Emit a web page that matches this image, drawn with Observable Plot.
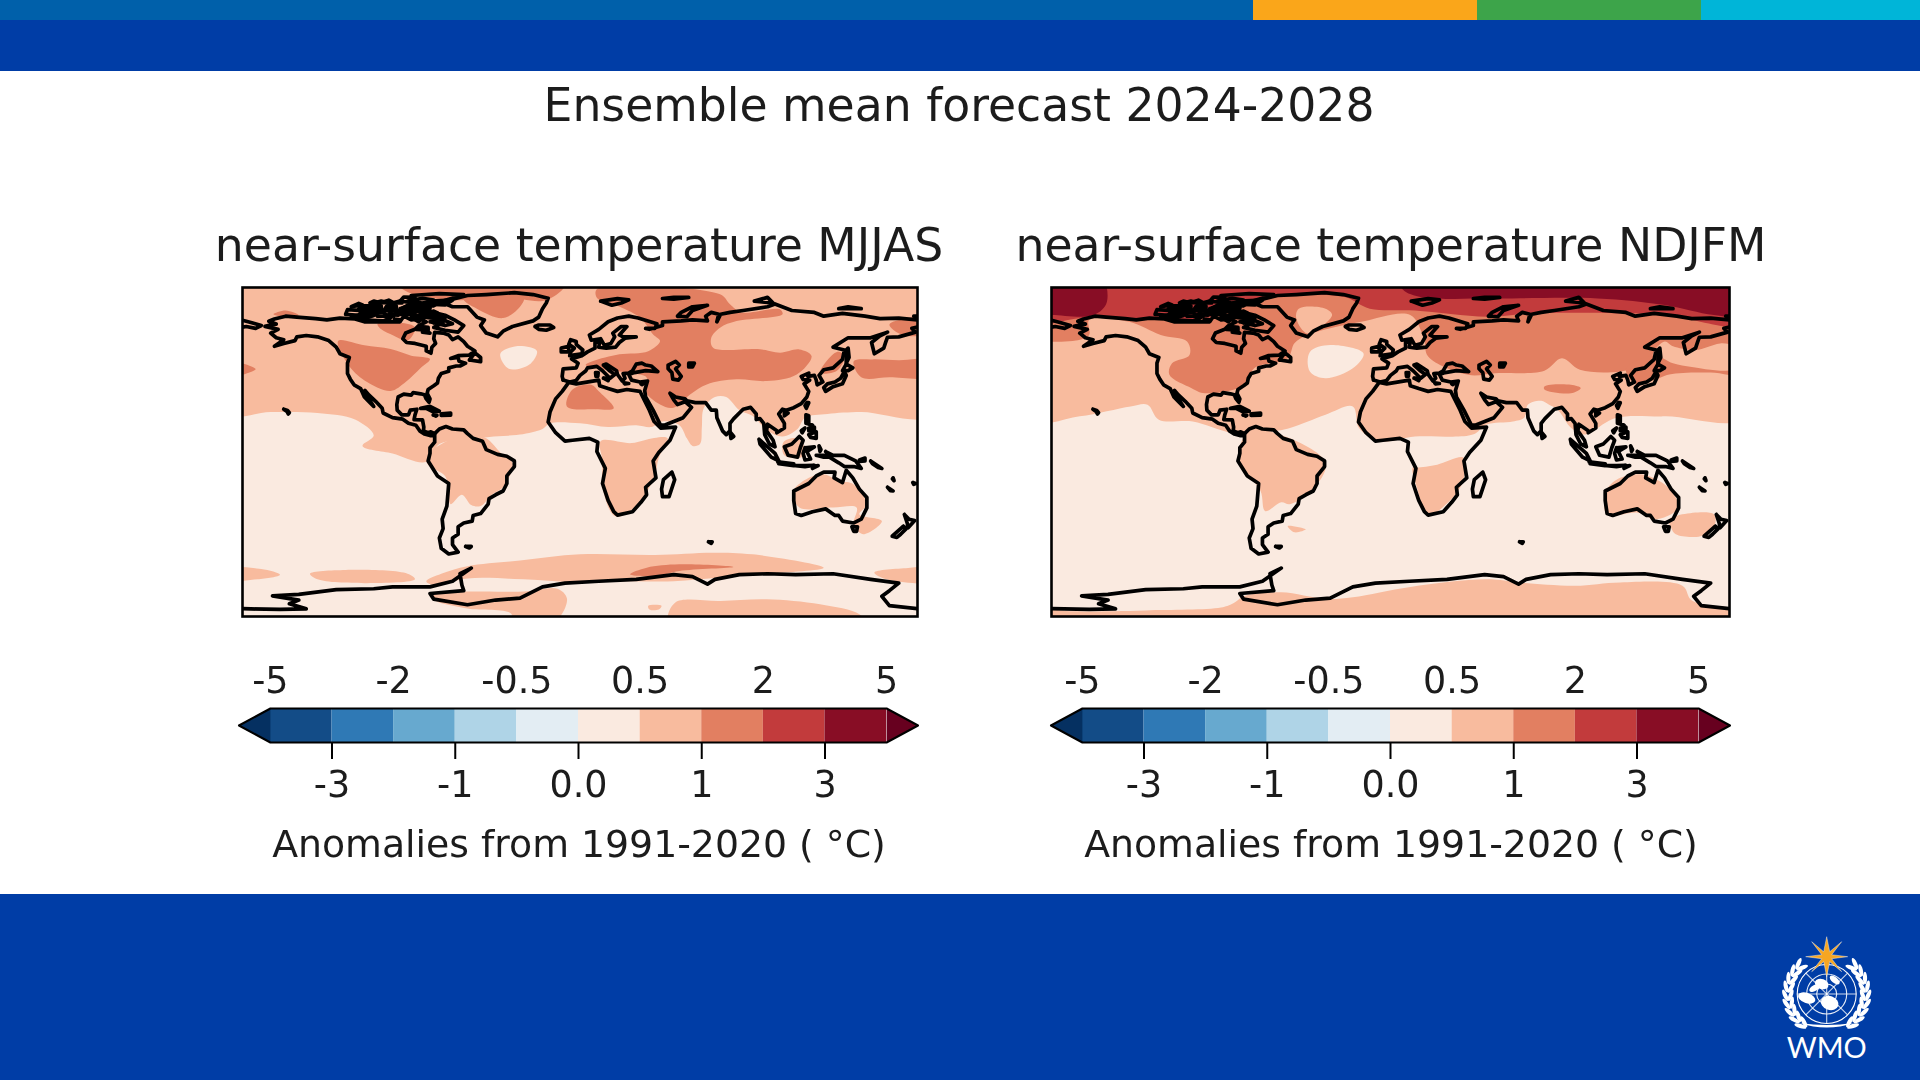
<!DOCTYPE html>
<html><head><meta charset="utf-8">
<script src="https://cdn.jsdelivr.net/npm/d3@7"></script>
<script src="https://cdn.jsdelivr.net/npm/@observablehq/plot@0.6"></script>
<style>
html,body{margin:0;padding:0;background:#fff;width:1920px;height:1080px;overflow:hidden}
body{position:relative;font-family:"DejaVu Sans",sans-serif;color:#1c1c1c}
.abs{position:absolute}
.t{position:absolute;text-align:center;white-space:nowrap;transform:translateX(-50%);line-height:1;filter:blur(.6px)}
.soft{position:absolute;filter:blur(.7px)}
svg{display:block;overflow:visible;background:transparent}
</style></head><body>
<div class="abs" style="left:0;top:0;width:1253px;height:20px;background:#0060aa"></div>
<div class="abs" style="left:1253px;top:0;width:224px;height:20px;background:#faa61a"></div>
<div class="abs" style="left:1477px;top:0;width:224px;height:20px;background:#3da44a"></div>
<div class="abs" style="left:1701px;top:0;width:219px;height:20px;background:#00b5d8"></div>
<div class="abs" style="left:0;top:20px;width:1920px;height:51px;background:#003da6"></div>
<div class="abs" style="left:0;top:894px;width:1920px;height:186px;background:#003da6"></div>
<div id="page"></div>
<svg id="logo" class="abs" style="left:1770px;top:925px" width="120" height="145" viewBox="1770 925 120 145"></svg>
<script>
// ---- text
const mainTitle = "Ensemble mean forecast 2024-2028";
const panelTitles = ["near-surface temperature MJJAS", "near-surface temperature NDJFM"];
const barLabel = "Anomalies from 1991-2020 ( °C)";
const topTicks = ["-5","-2","-0.5","0.5","2","5"];
const bottomTicks = ["-3","-1","0.0","1","3"];

// ---- colour classes
const boundaries = [-5,-3,-2,-1,-0.5,0,0.5,1,2,3,5];
const classColors = ["#053061","#134c87","#2f79b5","#67a9cf","#afd4e7","#e3edf3","#faeae0","#f8bb9e","#e27f61","#c23b3c","#880d25","#67001f"];

// ---- anomaly regions, [lon,lat], MJJAS
const world = [[-190,-95],[190,-95],[190,95],[-190,95]];
const mjjasLight = [
 [[-190,19.5],[-165,20],[-140,19.5],[-120,16],[-110,7.5],[-116,2],[-100,-2],[-82,-6.5],[-75,3],[-60,5],[-46,7],[-32,8],[-20,11],[-16,14],[0,14],[15,12],[30,13],[38,12],[44,15],[53,13],[57,6],[60,2],[64,3],[65,12],[66,22],[72,28],[78,28],[85,21],[92,18],[100,10],[108,7],[116,11],[120,17],[132,19],[150,20],[190,19],[190,95],[-190,95]],
 [[-50,6],[-42,-2],[-36,-7],[-37,-13],[-41,-20],[-47,-24],[-53,-30],[-58,-29.5],[-63,-24],[-69,-29],[-70,-22],[-72,-14],[-81,-8],[-82,-4],[-70,5],[-55,7]],
 [[11,4.5],[27.6,3.5],[39.5,6.2],[46.7,6],[42,-4.4],[39.5,-15],[32.4,-27],[23,-35],[18,-35],[12,-20],[12,-6]],
 [[108.5,4],[116,6],[120,0],[118,-4],[109,-3]],
 [[113.8,-22],[128,-13],[138.7,-16.7],[145.8,-18.4],[153,-29],[149,-34.4],[161,-38],[151,-45],[146,-39.7],[147.5,-30.8],[135,-30.8],[117,-30.8]],
 [[-82,-70],[-74,-66],[-60,-62],[-32,-59],[0,-55.7],[40,-56],[71,-54.8],[92,-55.7],[130,-62.8],[100,-66],[75,-68],[50,-70],[25,-70],[0,-70.7],[-30,-69],[-60,-68.5],[-78,-72]],
 [[-80,-77],[-58,-75.5],[-30,-75.5],[-12,-74],[-7,-79],[-10,-88],[-15,-92],[-35,-92],[-37,-87],[-60,-84.5],[-78,-80]],
 [[-190,-63.5],[-170,-63.5],[-160,-66.5],[-172,-69],[-190,-69]],
 [[-144,-66],[-125,-64],[-92,-66],[-88,-69],[-115,-71],[-140,-69]],
 [[157,-65.4],[175,-63],[190,-62.8],[190,-69.8],[163.6,-69]],
 [[47.5,-92],[50.7,-81.4],[75,-80.5],[99.6,-79.6],[128,-82.3],[149,-87.6],[152,-92]],
 [[36.4,-83],[43.5,-83],[42,-85],[37,-85]],
];
const mjjasPaleHoles = [ [[-42.5,51],[-34,55],[-23,52.5],[-27,45.3],[-38,43]] ];
const mjjasOrange = [
 [[-129,57.8],[-115,55.5],[-101,53.5],[-90,50],[-80,48.2],[-85,43.4],[-93,36],[-101,31.2],[-112,35],[-122,43]],
 [[-108,67],[-96,67.5],[-88,65],[-92,58],[-99,60.5],[-106,64]],
 [[-97,88],[-8,88],[-18,79.5],[-40,81],[-66,79.5],[-90,83]],
 [[-62,80],[-30,81],[-32,76],[-41,70],[-55,75]],
 [[-190,47],[-173,42.8],[-190,39]],
 [[-163.5,72],[-157,74],[-150,71.5],[-158,70.8]],
 [[9,85.3],[74.7,82.6],[80,77.3],[86,73],[106.7,74.6],[108,72],[83.5,68.4],[74.7,64.9],[70,59.5],[71,54.2],[96,53.4],[106.7,51.6],[117,53.3],[123.5,49.8],[115.6,40],[99.6,36.5],[83.5,37.4],[67.6,34.7],[58.7,29.4],[49.8,22.3],[42.7,24],[34.7,31.2],[35.6,38.3],[25,41],[10,43],[3,45],[7,47.1],[21,50.7],[36.4,52.4],[42.7,57.8],[39,61.3],[32,70.2],[18,77.3],[9,80.8]],
 [[-7,23],[-4,32],[6,34.5],[10,31],[18,22],[8,21.5]],
 [[128,41],[137,52],[141,50],[137,42]],
 [[146,47],[156,48],[170,47.5],[190,47.5],[190,39],[165,38.5],[150,38.5]],
 [[165,66.5],[175,70],[190,72],[190,63],[172,61]],
 [[26.7,-66.3],[35.6,-62.8],[53,-61],[81.8,-62.4],[53,-64.5],[41,-67.2]],
];

// ---- anomaly regions, [lon,lat], NDJFM
const ndjfmLight = [
 [[-190,16],[-165,17.7],[-138,23],[-129,23.9],[-123,15.9],[-105,15],[-84,9],[-63,9.6],[-53.4,11.5],[-34.5,18.6],[-20,23],[-16.7,11.5],[-6,4.5],[13,7],[43.7,8],[50.8,13.3],[65,15],[71,17],[73,24],[80,26],[84,24],[89,21],[96,11.5],[103,8],[119.5,16.8],[145.6,17.7],[190,17.7],[190,95],[-190,95]],
 [[-80.7,-4.4],[-74.8,9.8],[-53.4,6],[-34.5,-7],[-39,-18.5],[-53.4,-29],[-58,-28],[-66.5,-32.7],[-69,-22]],
 [[14,-9.6],[24.8,-8],[39,-4.4],[37.8,-18.5],[29.5,-29],[20,-35],[14,-20],[11.7,-9.6]],
 [[114.8,-21.5],[122,-15],[133.7,-13.2],[145.6,-18.5],[151.5,-25.6],[153,-31],[141,-37],[131.4,-33.5],[114.8,-34.4]],
 [[148,-37],[171.7,-34.4],[171.7,-41.5],[164.6,-46],[151.5,-45],[149,-41.5]],
 [[-54.6,-40.6],[-45,-42.4],[-51,-44]],
 [[-77,-77.7],[-58,-75.9],[-34.5,-79.4],[-20,-78.5],[10.5,-73],[50.8,-69],[69.8,-70.8],[98,-72.4],[122,-70.6],[155,-72.4],[160,-80.3],[180,-83.9],[190,-84],[190,-95],[-190,-95],[-190,-85],[-170,-86],[-130,-85.5],[-90,-84],[-84,-82]],
];
const ndjfmPaleHoles = [ [[-42.8,52],[-32,55.7],[-14.3,51.2],[-20,43.3],[-34.5,38],[-42.8,41.6]] ];
const ndjfmOrange = [
 [[-190,95],[190,95],[190,56.5],[175,56.5],[162,53],[150,55],[145.6,57.5],[139.7,52],[138.5,47],[122,41.6],[100.6,42.5],[91,48.6],[81.7,42],[55.6,40.7],[41.3,39.8],[20,49.5],[17.7,59],[10.5,71.6],[-15.5,68],[-44,61],[-51,56.6],[-54.6,48.6],[-72.4,43.3],[-77,34.5],[-98.5,30],[-105.6,32.7],[-117.4,39.8],[-116,46],[-106.7,50.4],[-108,57.5],[-122,61],[-138.7,68],[-160,69],[-160,61],[-167,58],[-180,57.4],[-190,57]],
 [[125,43],[140,50],[150,46],[160,44],[175,42],[190,42],[190,39],[170,41],[148,40],[140,37],[130,35]],
 [[81.7,33.6],[95.8,34.5],[101,32.7],[95.8,30],[81.7,32]],
];
const ndjfmGreenlandLight = [ [[-48.7,75],[-34.5,75],[-31,71.6],[-44,61.8],[-50,69.8]] ];
const ndjfmRed = [ [[-190,68],[-163,70],[-98,70],[-85,75],[-68,80.4],[-25,81.3],[-11,75],[13,74],[51,70.7],[75,72.5],[122,72.5],[146,71.6],[190,67],[190,95],[-190,95]] ];
const ndjfmDark = [
 [[-190,95],[-155,95],[-150.6,78.6],[-157.7,71.6],[-180,71.6],[-190,71.6]],
 [[5,95],[5.8,86],[15.3,81.3],[50.8,80.4],[110,80.4],[145.6,76.9],[171.7,71.6],[190,71.6],[190,95]],
];

// ---- coastlines, [lon,lat]
const northAmerica = [[-168,65.6],[-164,66.5],[-162,66.8],[-166,68.3],[-163,69.5],[-157,71],[-151,70.5],[-141,69.7],[-135,69],[-128,70],[-120,69.5],[-115,68],[-108,68],[-102,68],[-96,68],[-94,71],[-90,69],[-85,69.5],[-82,68],[-86,66],[-88,64],[-93,62],[-94.5,59],[-92.5,57],[-88,56.5],[-82,55],[-82,52.5],[-79.5,51.3],[-79,54.5],[-77,56.5],[-78,59],[-77.5,62.4],[-73,62],[-70,61],[-68,58.5],[-65,60],[-62,57.5],[-60,55],[-56,52.5],[-59,50.3],[-65,50],[-69,48.5],[-65,49],[-64.5,47],[-61,46],[-64,44.5],[-66,44.5],[-70,43.5],[-70,41.7],[-74,40.5],[-75.5,38],[-76,35.5],[-78,34],[-81,32],[-81.5,30],[-80,27],[-80.5,25.2],[-82,27],[-83,29.2],[-85,29.7],[-89,30.3],[-90,29],[-94,29.5],[-97,28],[-97.7,24],[-97.5,21],[-95,18.5],[-91.5,18.5],[-90.5,21],[-87,21.5],[-88,18.5],[-88.5,16],[-84,15.8],[-83.3,12],[-83.5,10],[-81,9],[-79.5,9.5],[-77.5,8.5],[-78,7.5],[-80,7.5],[-83,8.3],[-85.5,10],[-87.5,13],[-91.5,14],[-94.5,16.2],[-100,17],[-105,19.5],[-105.5,22],[-109,25.7],[-112.5,29],[-114.7,31.5],[-112,26],[-110,23],[-112,25],[-115,28],[-117,32.5],[-120.5,34.5],[-122.5,37.5],[-124,40.5],[-124,46],[-123,49],[-128,51],[-130,54.5],[-134,58],[-140,60],[-146,60.7],[-151,60],[-152,58],[-158,56.5],[-163,55],[-158,58.5],[-162,59.5],[-165,62],[-161,64],[-168,65.6]];
const southAmerica = [[-77.5,8.5],[-75,11],[-71.5,12.3],[-68,11],[-62,10.5],[-60,8.5],[-57,6],[-52,4.5],[-50,0],[-44,-2.5],[-39,-3.5],[-35,-6],[-35,-9],[-39,-14],[-39,-18],[-41,-22],[-45,-24],[-48.5,-26],[-49,-29],[-53,-34],[-57,-35],[-57.5,-38],[-62,-39],[-65,-41],[-65,-45],[-68,-47],[-68,-50.5],[-65,-54.5],[-70,-55.5],[-74,-52.5],[-75,-47],[-73,-42],[-73.5,-37],[-71,-30],[-70,-18],[-76,-14],[-81,-6],[-80,-2],[-80,1],[-77.5,4],[-77.5,8.5]];
const africa = [[32.5,30],[34,27],[37,21],[39.5,15],[43,11.5],[51,12],[48,5],[42,-1.5],[39,-6],[40.5,-15],[35,-20],[35.5,-24],[32.5,-28],[28,-33],[20,-34.8],[18,-33],[15,-27],[12,-18],[13.5,-10],[9,-1],[9.5,4],[5,6],[-4,5],[-8,4.5],[-13,9],[-17,14.7],[-16,20],[-13,27],[-9.5,31],[-6,35.8],[-2,35],[10,37],[10.5,34],[15,32.5],[20,31],[25,32],[32,31],[32.5,30]];
const eurasia = [[-9,37],[-9.5,39],[-9,43],[-2,43.5],[-1,46],[-4.5,48.3],[1,50],[4,52],[8,54],[8,57],[10.5,57.5],[10,54.5],[14,54],[19,54.5],[21,57],[24,59.3],[30,60],[23,60],[21,61],[25,65.5],[22,65.5],[17.5,62],[18.5,60],[16.5,56.5],[13,55.5],[11,59],[6,58.2],[5,61],[10,64],[15,68],[20,70],[26,71],[31,70],[41,67],[40,64.5],[35,64.5],[37,64],[44,66],[44,68],[54,68.5],[60,69],[68,68.5],[67,71],[70,73],[74,72],[73,68],[75,72],[80,73],[87,74],[100,76],[104,77.5],[113,74],[125,73],[130,71],[140,72.5],[152,71],[160,69.7],[170,70],[180,69]];
const eurasiaEast = [[180,65.2],[177,64.5],[179,62.5],[170,60],[164,59.8],[163,57],[162,54],[157,51],[155.5,57],[160,60.5],[164,62.5],[155,59.5],[143,59.5],[135,54.5],[141,53],[140,48],[135,43.5],[130,42.5],[127.5,39.5],[129.5,36],[126.5,34.5],[126,37],[125,39.5],[121.5,39],[122,40.7],[118,39],[119,37.3],[122.5,37],[119.5,35],[122,31],[121,28],[118,24.5],[114,22.3],[110,21],[108,21.5],[106,19],[109,14],[109,11.5],[105,9],[105,10],[100,13.5],[99.5,10],[103,5],[104,1.5],[101,3],[98.5,8],[98,14],[96,16.5],[94,16],[94,19],[91,22.5],[87,21.5],[82,16.5],[80,14],[80,10],[78,8],[76,10],[73,17],[72.7,21],[70,21],[67,25],[61.5,25],[57,26],[56,27],[51,28],[48,30],[50,26.5],[52,24],[56,25.5],[59.5,22.5],[55,17],[45,13],[43,13],[39,21],[35,28],[34.5,31.5],[36,36.5],[32,36],[27.5,37],[26,40],[29,41],[35,42],[41.5,41.5],[38,44.5],[35,45],[33,46],[30,45.5],[28,42],[26,40.7],[23,40.5],[24,38],[22.5,36.5],[20,40],[19.5,42],[14,45.5],[12.5,45],[16,41.8],[18.5,40],[16,38],[12,42],[9,44.3],[4,43.5],[3,41.8],[0,39.5],[-2,36.8],[-5.5,36],[-9,37]];
const chukotka = [[-180,68.8],[-175,67.5],[-170,66],[-173,64.5],[-178,65.5],[-180,65.2]];
const antarctica = [[-180,-84.6],[-160,-85],[-146,-84.7],[-155,-82],[-150,-80],[-164,-77.8],[-150,-77],[-130,-74.5],[-110,-74],[-100,-73],[-80,-73],[-68,-70],[-58,-63],[-64,-66],[-63,-72],[-62,-75],[-80,-76.5],[-78,-79.5],[-60,-82.5],[-45,-80],[-32,-79],[-20,-73],[-8,-71],[10,-70],[30,-69],[50,-66.5],[60,-67.5],[68,-71.5],[72,-69],[85,-66.5],[100,-66],[115,-66.5],[135,-66],[155,-69],[170,-71],[165,-75],[161,-78],[165,-83],[180,-84.6]];
const australia = [[114,-22],[122,-18],[126,-14],[130,-12],[136,-12],[135.5,-15],[140,-17.5],[142,-11],[145.5,-15],[149,-21],[153,-25.5],[153,-31],[150,-37],[146,-39],[140,-38],[138,-35],[136,-35],[131,-31.5],[124,-33],[118,-35],[115,-34],[114,-27],[114,-22]];
const greenland = [[-73,78],[-68,76],[-60,76],[-55,70.5],[-51,69],[-53,66],[-50,62],[-44,60],[-41,63],[-36,65.5],[-25,68.5],[-22,70.5],[-20,75],[-18,78],[-17,80.5],[-25,82.5],[-35,83.5],[-50,82.5],[-60,82],[-68,80],[-73,78]];
const arcticIslands = [
 [[-62,66],[-65,62.5],[-72,63.5],[-78,65],[-73,67.5],[-78,70],[-88,71],[-90,73.5],[-80,73.5],[-72,71.5],[-67,69],[-62,66]],
 [[-90,76.5],[-78,76.5],[-75,78.5],[-65,81.5],[-62,82.5],[-75,83],[-90,82],[-88,79],[-90,76.5]],
 [[-117,69],[-105,68.5],[-101,70],[-105,73],[-117,73],[-117,69]],
 [[-125,72],[-118,71.5],[-116,74],[-124,74.5],[-125,72]],
 [[-118,75],[-106,75],[-106,76.5],[-116,76.5],[-118,75]],
 [[-95,75],[-80,74.8],[-80,75.8],[-92,76.8],[-95,75]],
 [[-96,72],[-90,72],[-90,74],[-96,74],[-96,72]],
 [[-96,79],[-88,78],[-88,81],[-94,81.2],[-96,79]],
 [[-87,64],[-81,63.5],[-81,65],[-85,65.5],[-87,64]],
 [[-104,75],[-98,75],[-98,76.5],[-103,76.5],[-104,75]],
 [[-122,76],[-116,77],[-118,77.8],[-122,76]],
 [[-110,78],[-103,78.2],[-106,79],[-110,78]],
 [[-102,72],[-97,71.5],[-97,74],[-100,74],[-102,72]],
 [[-99,69.5],[-96,69],[-96,68.5],[-99,69.5]],
 [[-96,75],[-93,75],[-93,76],[-96,75]],
 [[-80,73],[-76,72.7],[-78,73.7],[-80,73]],
 [[-84,62.5],[-80,62],[-82,63],[-84,62.5]],
 [[-78,67.5],[-75,68],[-77,68.3],[-78,67.5]],
 [[-100,78],[-95,78],[-96,79],[-100,78]],
 [[-105,78.5],[-100,78.5],[-102,79.5],[-105,78.5]],
 [[-112,78],[-108,78.5],[-110,79],[-112,78]],
 [[-115,73.5],[-108,72.5],[-104,74],[-110,74.5],[-115,73.5]],
 [[-122,70.5],[-114,70],[-110,71.3],[-118,71.6],[-122,70.5]],
 [[-112,75.5],[-104,74],[-96,73.5],[-100,71],[-108,71],[-112,75.5]],
 [[-84,72.5],[-76,71.5],[-72,70],[-82,70.5],[-86,71.5],[-84,72.5]],
 [[-92,79],[-84,78],[-78,79.5],[-84,80.5],[-92,79]],
 [[-84,77.5],[-72,77],[-68,79.5],[-80,79],[-84,77.5]],
 [[-80,68],[-72,66],[-68,67],[-74,69.5],[-80,68]],
 [[-90,70.5],[-86,68],[-84,70],[-88,72],[-90,70.5]],
 [[11,79],[17,76.8],[22,78],[26,79.7],[20,80.3],[11,79]],
 [[44,80.4],[50,80],[58,81],[50,81],[44,80.4]],
 [[52,71],[57,70.7],[60,74],[68,76.8],[60,76],[54,73],[52,71]],
 [[93,79],[103,78],[100,81],[93,79]],
 [[138,75],[150,75],[143,76],[138,75]],
 [[178,71],[180,71],[180,70.8],[178,71]],
];
const otherIslands = [
 [[-59,47.7],[-53,46.8],[-53,49],[-56,51.5],[-59,47.7]],
 [[-85,22],[-80,23],[-75,20.5],[-78,20],[-82,22],[-85,22]],
 [[-74,19],[-69,19.5],[-69,18.3],[-74,18.2],[-74,19]],
 [[-78.3,18.4],[-76.3,18.2],[-77,17.8],[-78.3,18.4]],
 [[-158,21.5],[-156,20.8],[-155,19.6],[-155.6,19],[-156.3,20.3],[-158,21.5]],
 [[-24,65.5],[-22,64],[-18,63.5],[-14,65],[-16,66.3],[-22,66.3],[-24,65.5]],
 [[-5.5,50],[1,51],[1.5,53],[-2,56],[-2,57.5],[-5,58.5],[-6,56],[-3,54],[-5,52],[-5.5,50]],
 [[-10,52],[-6,52],[-6,55],[-10,54],[-10,52]],
 [[12.5,38],[15.5,38],[15,36.7],[12.5,38]],
 [[8.3,41],[9.7,41],[9.5,39],[8.5,39],[8.3,41]],
 [[23.5,35.5],[26,35.2],[24,35],[23.5,35.5]],
 [[32.5,35],[34.5,35.5],[33,34.6],[32.5,35]],
 [[47,45],[51,47],[53,45],[51,43],[54,39],[52.5,37],[49.5,37.5],[49,41],[47,43],[47,45]],
 [[58,46],[61,46],[60,44],[58,44],[58,46]],
 [[-61,-51.5],[-58,-51.5],[-59,-52.3],[-61,-51.5]],
 [[68.5,-49],[70.5,-49],[70,-49.8],[68.5,-49]],
 [[49,-12],[50.5,-16],[47.5,-25],[44,-25],[43.5,-21],[44.5,-16],[49,-12]],
 [[80,9.5],[82,7],[80.5,6],[80,9.5]],
 [[95.5,5.5],[104,-2],[106,-6],[102,-4],[96,3],[95.5,5.5]],
 [[105.5,-6.5],[114,-7.5],[114,-8.5],[106,-7.5],[105.5,-6.5]],
 [[115,-8.5],[120,-8.5],[125,-8.3],[120,-9],[115,-8.5]],
 [[109,1.5],[113,3],[117,7],[119,5],[117.5,1],[116,-4],[111,-3],[109,1.5]],
 [[120,1],[125,1.5],[121,-1],[123,-5],[120,-5.5],[119,-2],[120,1]],
 [[127.5,2],[128.5,0],[128,-1],[127.5,2]],
 [[126,-3],[130,-3],[134,-4],[130,-4],[126,-3]],
 [[131,-1],[135,-3],[141,-3],[147,-6],[150,-10],[146,-9],[141,-9],[138,-7],[133,-4],[131,-1]],
 [[149,-5.5],[152,-4.5],[152,-6],[149,-6.3],[149,-5.5]],
 [[155,-6],[158,-8],[161,-10],[159,-9.5],[156,-7.5],[155,-6]],
 [[120.5,18.5],[122,18],[122,14],[124,13],[120.5,14],[120.5,18.5]],
 [[122,11.5],[125,12],[125,10],[122,10],[122,11.5]],
 [[122,8],[126,9.5],[126,6],[123,6.5],[122,8]],
 [[118,10],[120,11.5],[118.5,9],[118,10]],
 [[121,25],[122,25],[120.7,22],[120,23.5],[121,25]],
 [[130,33],[131,31],[135,33.5],[140,35],[142,39.5],[141,41.5],[139,38],[136,36],[132,35],[130,33]],
 [[140,42],[142,45.5],[145.5,43.5],[143,42],[140,42]],
 [[142,46],[143.5,49],[143,54],[142,53],[142,46]],
 [[124,-9],[127,-8.5],[124,-10],[124,-9]],
 [[109,20],[111,19.5],[109,18],[109,20]],
 [[145,-41],[148,-41],[147.5,-43.5],[146,-43.5],[145,-41]],
 [[173,-34.5],[175.5,-37],[178.5,-37.7],[175,-41.5],[174.5,-39],[173,-34.5]],
 [[172.5,-40.7],[174,-42],[171,-45],[169,-46.7],[166.5,-46],[172.5,-40.7]],
 [[164,-20],[167,-22],[165.5,-21.8],[164,-20]],
 [[167,-15],[167.5,-16.5],[166.6,-15.5],[167,-15]],
 [[177.5,-17.5],[179,-18],[178,-18.4],[177.5,-17.5]],
];

// ---- building tables from the lists above
const color = {type:"threshold", domain:boundaries, range:classColors};
let uid = 0;
function ringRows(value, rings){
  return rings.flatMap(r => { const id = uid++; return r.map(p => ({lon:p[0], lat:p[1], id, v:value})); });
}
const coastRings = [northAmerica,southAmerica,africa,eurasia,eurasiaEast,chukotka,antarctica,australia,greenland,...arcticIslands,...otherIslands];
const coastRows = ringRows(0, coastRings);
const mjjasRows = [...ringRows(0.25,[world]),...ringRows(0.75,mjjasLight),...ringRows(0.25,mjjasPaleHoles),...ringRows(1.5,mjjasOrange)];
const ndjfmRows = [...ringRows(0.25,[world]),...ringRows(0.75,ndjfmLight),...ringRows(0.25,ndjfmPaleHoles),...ringRows(1.5,ndjfmOrange),...ringRows(0.75,ndjfmGreenlandLight),...ringRows(2.5,ndjfmRed),...ringRows(4,ndjfmDark)];

const page = document.getElementById("page");
function place(el,left,top){ el.classList.add("soft"); el.style.left=left+"px"; el.style.top=top+"px"; page.appendChild(el); }
function text(s,cx,cy,size){ const d=document.createElement("div"); d.className="t"; d.textContent=s; d.style.left=cx+"px"; d.style.top=(cy-size/2)+"px"; d.style.fontSize=size+"px"; page.appendChild(d); return d; }

function mapPanel(rows,left,top,w,h){
  const m=2;
  const svg = Plot.plot({
    width:w+2*m, height:h+2*m, margin:m, style:{background:"transparent"},
    x:{domain:[-180,180],axis:null}, y:{domain:[-88.75,86.25],axis:null}, color,
    marks:[
      Plot.line(rows,{x:"lon",y:"lat",z:"id",fill:"v",stroke:"none",curve:"catmull-rom-closed",clip:"frame"}),
      Plot.line(coastRows,{x:"lon",y:"lat",z:"id",stroke:"#000",strokeWidth:3.7,strokeLinejoin:"round",strokeLinecap:"round",clip:"frame"}),
      Plot.frame({stroke:"#000",strokeWidth:2.6})
    ]
  });
  place(svg,left-m,top-m);
}
function colorBar(left){
  const cells = boundaries.slice(0,-1).map((b,i)=>({i,v:(b+boundaries[i+1])/2}));
  const tipL = [[0,0],[-0.51,0.5],[0,1]].map(p=>({x:p[0],y:p[1],v:-6,id:"l"}));
  const tipR = [[10,0],[10.51,0.5],[10,1]].map(p=>({x:p[0],y:p[1],v:6,id:"r"}));
  const outline = [[0,0],[10,0],[10.51,0.5],[10,1],[0,1],[-0.51,0.5],[0,0]].map(p=>({x:p[0],y:p[1]}));
  const svg = Plot.plot({
    width:684, height:150, marginLeft:0, marginRight:0, marginTop:53, marginBottom:63,
    style:{background:"transparent",fontFamily:"DejaVu Sans",color:"#1c1c1c"},
    x:{domain:[-0.55,10.55],axis:null}, y:{domain:[0,1],axis:null}, color,
    marks:[
      Plot.rect(cells,{x1:"i",x2:d=>d.i+1,y1:0,y2:1,fill:"v"}),
      Plot.line([...tipL,...tipR],{x:"x",y:"y",z:"id",fill:"v",stroke:"v",strokeWidth:.8}),
      Plot.line(outline,{x:"x",y:"y",stroke:"#000",strokeWidth:2}),
      Plot.axisX({anchor:"top",ticks:[0,2,4,6,8,10],tickSize:0,tickPadding:15.5,fontSize:36.5,label:null,tickFormat:i=>topTicks[i/2]}),
      Plot.axisX({anchor:"bottom",ticks:[1,3,5,7,9],tickSize:17,tickPadding:11.5,strokeWidth:2,stroke:"#000",fontSize:36.5,label:null,tickFormat:i=>bottomTicks[(i-1)/2]})
    ]
  });
  place(svg,left,655);
}

text(mainTitle,959,105.5,45.7);
text(panelTitles[0],579,245.5,45.7);
text(panelTitles[1],1391,245.5,45.7);
mapPanel(mjjasRows,242,286.5,675,329);
mapPanel(ndjfmRows,1051,286.5,678,329);
colorBar(236.2);
colorBar(1048);
text(barLabel,579,845,37.8);
text(barLabel,1391,845,37.8);

// ---- WMO emblem
(function(){
  const s=d3.select("#logo"), cx=1826.7, cy=994;
  const W="#ffffff", O="#f6a623";
  const g=s.append("g").attr("fill","none").attr("stroke",W).attr("stroke-width",1.1);
  g.append("circle").attr("cx",cx).attr("cy",cy).attr("r",29.5);
  [10,20].forEach(r=>g.append("circle").attr("cx",cx).attr("cy",cy).attr("r",r).attr("opacity",.9));
  [0,45,90,135].forEach(a=>g.append("line").attr("x1",cx-29.5*Math.cos(a*Math.PI/180)).attr("y1",cy-29.5*Math.sin(a*Math.PI/180)).attr("x2",cx+29.5*Math.cos(a*Math.PI/180)).attr("y2",cy+29.5*Math.sin(a*Math.PI/180)).attr("opacity",.8));
  const land=[[-20,4,9,5,20],[-5,-10,7,5,20],[3,9,9,7,20],[8,-14,6,3,40],[-12,-6,6,3,-30]];
  land.forEach(l=>s.append("ellipse").attr("cx",cx+l[0]).attr("cy",cy+l[1]).attr("rx",l[2]).attr("ry",l[3]).attr("transform",`rotate(${l[4]} ${cx+l[0]} ${cy+l[1]})`).attr("fill",W));
  [-1,1].forEach(side=>{
    for(let i=0;i<9;i++){
      const deg=-47+i*12.2, a=deg*Math.PI/180;
      [[36,-22],[41.5,22]].forEach(([r,tilt])=>{
        const x=cx+side*r*Math.cos(a), y=cy+r*Math.sin(a);
        const rot=side*(deg+tilt);
        s.append("ellipse").attr("cx",x).attr("cy",y).attr("rx",2.1).attr("ry",6.2).attr("fill",W).attr("transform",`rotate(${rot} ${x} ${y})`);
      });
    }
  });
  s.append("path").attr("d",`M${cx-27} ${cy+29} Q${cx} ${cy+33} ${cx+27} ${cy+29} Q${cx} ${cy+38} ${cx-27} ${cy+29}Z`).attr("fill",W);
  const star=[[0,-20],[3,-5],[15,-15],[5,-2],[21,0],[5,2],[15,15],[3,5],[0,20],[-3,5],[-15,15],[-5,2],[-21,0],[-5,-2],[-15,-15],[-3,-5]];
  s.append("polygon").attr("points",star.map(p=>[1826.7+p[0],956.7+p[1]].join(",")).join(" ")).attr("fill",O).attr("stroke","#fff").attr("stroke-width",.4);
  s.append("text").attr("x",cx).attr("y",1058.3).attr("text-anchor","middle").attr("fill",W).attr("font-family","Lato").attr("font-size",29).attr("textLength",80).attr("lengthAdjust","spacingAndGlyphs").text("WMO");
})();
</script>
</body></html>
